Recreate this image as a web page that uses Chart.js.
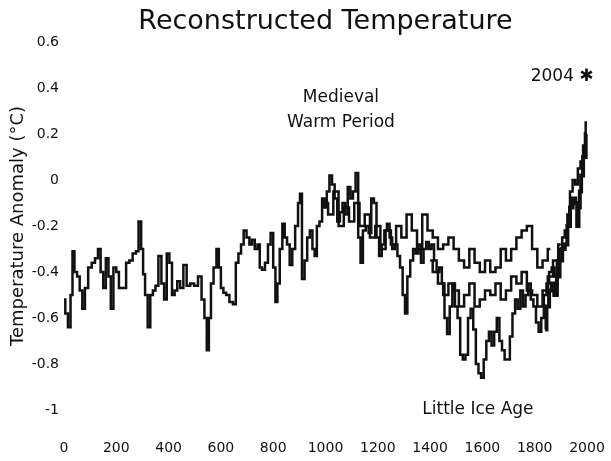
<!DOCTYPE html>
<html>
<head>
<meta charset="utf-8">
<script src="https://cdn.jsdelivr.net/npm/chart.js@4/dist/chart.umd.min.js"></script>
<style>
html,body{margin:0;padding:0;background:#fff;}
#wrap{width:611px;height:461px;}
</style>
</head>
<body>
<div id="wrap"><canvas id="c" width="611" height="461"></canvas></div>
<script>
// ---- data ----
const chartTitle = "Reconstructed Temperature";
const yAxisTitle = "Temperature Anomaly (°C)";
const xTicks = [0,200,400,600,800,1000,1200,1400,1600,1800,2000];
const yTicks = [0.6,0.4,0.2,0,-0.2,-0.4,-0.6,-0.8,-1];

const mainYears = [0,10,20,30,35,45,55,65,75,85,100,112,125,135,145,155,165,175,183,195,205,215,230,245,255,270,280,290,300,305,315,325,335,345,355,367,378,388,398,408,418,428,438,450,463,475,490,505,520,532,542,550,558,566,578,588,596,604,615,625,640,652,662,672,682,692,704,714,724,735,745,752,762,775,785,795,805,812,820,830,840,848,858,868,878,890,900,905,915,925,935,945,955,962,972,982,992,1000,1010,1020,1030,1040,1050,1060,1070,1080,1090,1100,1110,1120,1130,1138,1148,1160,1170,1180,1190,1200,1210,1220,1230,1240,1250,1260,1270,1280,1290,1300,1308,1318,1330,1340,1350,1360,1370,1380,1390,1400,1410,1420,1430,1440,1450,1460,1470,1480,1490,1500,1510,1520,1530,1540,1550,1560,1570,1580,1590,1600,1610,1620,1630,1640,1650,1660,1670,1680,1690,1700,1710,1720,1730,1740,1750,1760,1770,1780,1790,1800,1810,1820,1830,1840,1850,1860,1870,1880,1890,1900,1910,1920,1930,1940,1950,1960,1970,1980,1990,2000,2004];
const mainValues = [-0.52,-0.58,-0.64,-0.50,-0.31,-0.40,-0.42,-0.48,-0.56,-0.47,-0.38,-0.36,-0.34,-0.30,-0.40,-0.47,-0.34,-0.42,-0.56,-0.38,-0.40,-0.47,-0.47,-0.36,-0.35,-0.32,-0.31,-0.18,-0.30,-0.41,-0.50,-0.64,-0.50,-0.48,-0.46,-0.33,-0.45,-0.52,-0.32,-0.36,-0.50,-0.48,-0.44,-0.47,-0.37,-0.46,-0.45,-0.46,-0.42,-0.52,-0.60,-0.74,-0.60,-0.45,-0.38,-0.30,-0.38,-0.47,-0.49,-0.50,-0.53,-0.54,-0.36,-0.32,-0.28,-0.22,-0.25,-0.28,-0.26,-0.30,-0.28,-0.38,-0.39,-0.36,-0.28,-0.23,-0.38,-0.53,-0.45,-0.30,-0.19,-0.25,-0.28,-0.37,-0.30,-0.20,-0.10,-0.06,-0.43,-0.35,-0.25,-0.22,-0.30,-0.33,-0.20,-0.18,-0.08,-0.12,-0.05,0.02,-0.02,-0.08,-0.18,-0.14,-0.10,-0.15,-0.03,-0.08,-0.05,0.03,-0.25,-0.36,-0.22,-0.20,-0.23,-0.08,-0.10,-0.25,-0.33,-0.28,-0.22,-0.19,-0.25,-0.30,-0.28,-0.33,-0.38,-0.50,-0.58,-0.42,-0.35,-0.30,-0.32,-0.28,-0.36,-0.30,-0.27,-0.30,-0.28,-0.35,-0.40,-0.38,-0.45,-0.60,-0.67,-0.55,-0.45,-0.55,-0.60,-0.76,-0.78,-0.76,-0.60,-0.56,-0.65,-0.80,-0.84,-0.86,-0.78,-0.70,-0.66,-0.72,-0.66,-0.60,-0.70,-0.74,-0.78,-0.78,-0.68,-0.58,-0.52,-0.56,-0.48,-0.55,-0.50,-0.45,-0.52,-0.55,-0.62,-0.66,-0.60,-0.50,-0.45,-0.40,-0.38,-0.42,-0.35,-0.30,-0.25,-0.22,-0.15,-0.05,0.00,-0.02,0.05,0.08,0.15,0.25,0.35];

const upperYears = [1000,1020,1040,1060,1080,1100,1120,1140,1160,1180,1200,1220,1240,1260,1280,1300,1320,1340,1360,1380,1400,1420,1440,1460,1480,1500,1520,1540,1560,1580,1600,1620,1640,1660,1680,1700,1720,1740,1760,1780,1800,1820,1840,1860];
const upperValues = [-0.10,-0.15,-0.05,-0.20,-0.12,-0.18,-0.10,-0.20,-0.15,-0.25,-0.20,-0.30,-0.22,-0.28,-0.20,-0.25,-0.15,-0.22,-0.30,-0.15,-0.22,-0.25,-0.30,-0.28,-0.25,-0.30,-0.35,-0.38,-0.30,-0.36,-0.40,-0.35,-0.40,-0.38,-0.30,-0.35,-0.30,-0.25,-0.22,-0.20,-0.30,-0.38,-0.35,-0.30];

const middleYears = [1400,1420,1440,1460,1480,1500,1520,1540,1560,1580,1600,1620,1640,1660,1680,1700,1720,1740,1760,1780,1800,1820,1840,1860,1880,1900];
const middleValues = [-0.35,-0.40,-0.45,-0.50,-0.45,-0.48,-0.55,-0.50,-0.45,-0.55,-0.52,-0.48,-0.50,-0.45,-0.52,-0.48,-0.42,-0.45,-0.40,-0.48,-0.50,-0.55,-0.48,-0.42,-0.35,-0.28];

const instYears = [1840,1850,1860,1870,1880,1890,1900,1910,1920,1930,1940,1950,1960,1965,1970,1975,1980,1990,2000,2004];
const instValues = [-0.65,-0.55,-0.48,-0.45,-0.50,-0.42,-0.35,-0.30,-0.28,-0.20,-0.12,-0.08,-0.10,-0.20,-0.12,-0.05,0.02,0.10,0.20,0.30];

// text labels placed in data coordinates
const notes = [
  {text:"Medieval", year:1059, value:0.36},
  {text:"Warm Period", year:1059, value:0.25},
  {text:"2004 \u2731", year:1905, value:0.45},
  {text:"Little Ice Age", year:1583, value:-1.0}
];

const toXY = (xs, ys) => xs.map((x,i)=>({x:x, y:ys[i]}));
const FONT = "'DejaVu Sans', sans-serif";

const notePlugin = {
  id:'notes',
  afterDatasetsDraw(chart){
    const {ctx, scales:{x,y}, chartArea} = chart;
    ctx.save();
    ctx.fillStyle = '#111';
    ctx.textAlign = 'center';
    ctx.textBaseline = 'middle';
    ctx.font = "17px " + FONT;
    notes.forEach(n => ctx.fillText(n.text, x.getPixelForValue(n.year), y.getPixelForValue(n.value)));
    ctx.font = "27px " + FONT;
    ctx.fillText(chartTitle, (chartArea.left+chartArea.right)/2, 22);
    ctx.restore();
  }
};

const lineDs = (data, w) => ({
  data, borderColor:'#111', backgroundColor:'#111', borderWidth:w,
  pointRadius:0, stepped:'middle', tension:0, clip:false, fill:false
});

new Chart(document.getElementById('c'), {
  type:'line',
  data:{ datasets:[
    lineDs(toXY(upperYears, upperValues), 2.5),
    lineDs(toXY(middleYears, middleValues), 2.5),
    lineDs(toXY(instYears, instValues), 4),
    lineDs(toXY(mainYears, mainValues), 2.5)
  ]},
  options:{
    responsive:false, animation:false,
    layout:{padding:{left:0, right:24, top:42, bottom:0}},
    plugins:{ legend:{display:false}, tooltip:{enabled:false}, title:{display:false} },
    scales:{
      x:{ type:'linear', min:0, max:2000,
        grid:{display:false, drawTicks:false}, border:{display:false},
        afterBuildTicks: s => { s.ticks = xTicks.map(v=>({value:v})); },
        afterFit: s => { s.height = 51; s.paddingLeft = 0; s.paddingRight = 0; },
        ticks:{ padding:30, color:'#111', font:{family:FONT, size:14}, maxRotation:0, autoSkip:false,
          callback: v => String(v) }
      },
      y:{ type:'linear', min:-1, max:0.6,
        grid:{display:false, drawTicks:false}, border:{display:false},
        afterBuildTicks: s => { s.ticks = yTicks.map(v=>({value:v})); },
        afterFit: s => { s.width = 64; },
        title:{ display:true, text:yAxisTitle, color:'#111', font:{family:FONT, size:18}, padding:{top:8,bottom:0} },
        ticks:{ padding:5, color:'#111', font:{family:FONT, size:14},
          callback: v => String(Math.round(v*10)/10) }
      }
    }
  },
  plugins:[notePlugin]
});
</script>
</body>
</html>
